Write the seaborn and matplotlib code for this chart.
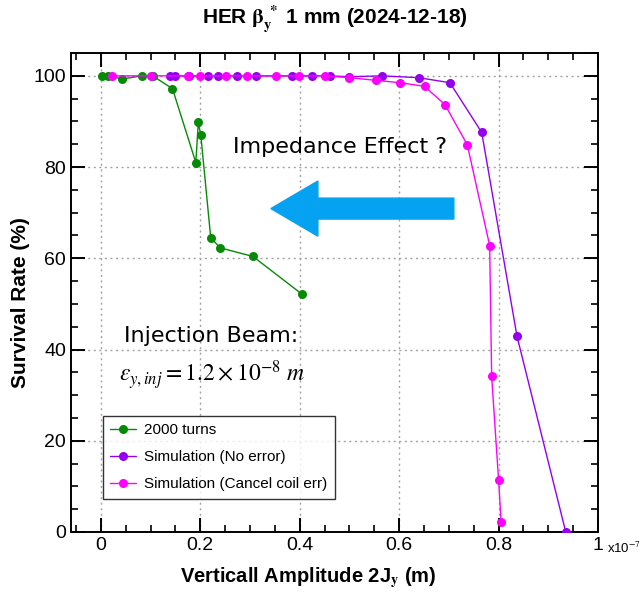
import matplotlib
matplotlib.use("Agg")
import matplotlib.pyplot as plt
from matplotlib.ticker import MultipleLocator
import seaborn as sns
import pandas as pd

# values (x in units of 1e-7 m, y in %)
turns_x = [0.003, 0.015, 0.043, 0.082, 0.104, 0.144, 0.191, 0.196, 0.201,
           0.221, 0.240, 0.306, 0.405]
turns_y = [100.0, 100.0, 99.3, 100.0, 100.0, 97.2, 81.0, 89.8, 87.0,
           64.5, 62.3, 60.4, 52.1]

noerr_x = [0.139, 0.149, 0.177, 0.216, 0.235, 0.274, 0.312, 0.385, 0.425,
           0.460, 0.499, 0.565, 0.639, 0.702, 0.766, 0.837, 0.935]
noerr_y = [100.0, 100.0, 100.0, 100.0, 100.0, 100.0, 100.0, 100.0, 100.0,
           100.0, 99.8, 100.0, 99.6, 98.5, 87.6, 42.9, 0.0]

coil_x = [0.022, 0.100, 0.175, 0.200, 0.251, 0.293, 0.353, 0.399, 0.450,
          0.500, 0.554, 0.602, 0.651, 0.692, 0.737, 0.782, 0.786, 0.800, 0.805]
coil_y = [100.0, 100.0, 100.0, 100.0, 100.0, 100.0, 100.0, 100.0, 100.0,
          99.6, 99.0, 98.5, 97.7, 93.7, 84.9, 62.8, 34.1, 11.3, 2.2]

series = [
    ("2000 turns", turns_x, turns_y, "#078a07"),
    ("Simulation (No error)", noerr_x, noerr_y, "#9400ee"),
    ("Simulation (Cancel coil err)", coil_x, coil_y, "#ff00ff"),
]

sns.set_theme(style="whitegrid")
plt.rcParams["font.family"] = ["Liberation Sans", "DejaVu Sans"]
plt.rcParams["mathtext.fontset"] = "stix"
for key in ["text.color", "axes.labelcolor", "xtick.color", "ytick.color"]:
    plt.rcParams[key] = "black"

fig = plt.figure(figsize=(6.41, 5.96), dpi=100)
ax = fig.add_axes([0.1108, 0.1074, 0.8222, 0.8036])

for name, xs, ys, col in series:
    df = pd.DataFrame({"x": xs, "y": ys})
    sns.lineplot(data=df, x="x", y="y", ax=ax, color=col, sort=False,
                 estimator=None, linewidth=1.0, marker="o", markersize=6.5,
                 markeredgewidth=0, label=name, zorder=3)

ax.set_xlim(-0.06, 1.0)
ax.set_ylim(0, 105)
ax.xaxis.set_major_locator(MultipleLocator(0.2))
ax.xaxis.set_minor_locator(MultipleLocator(0.05))
ax.yaxis.set_major_locator(MultipleLocator(20))
ax.yaxis.set_minor_locator(MultipleLocator(5))
ax.xaxis.set_major_formatter(lambda v, p: f"{v:g}")

ax.tick_params(which="both", direction="in", bottom=True, left=True, top=True,
               right=True, labelsize=14)
ax.tick_params(which="major", length=10, width=1.4)
ax.tick_params(which="minor", length=5, width=1.2)
ax.grid(True, which="major", color="#a3a3a3", linestyle=(0, (1.5, 2.5)),
        linewidth=1.0)
ax.grid(False, which="minor")
ax.set_axisbelow("line")
for s in ax.spines.values():
    s.set_color("black")
    s.set_linewidth(1.4)

ax.set_title(r"HER $\mathbf{\beta_y^{\ *}}$ 1 mm (2024-12-18)", fontsize=15,
             fontweight="bold", pad=21)
ax.set_xlabel(r"Verticall Amplitude 2J$_\mathbf{y}$ (m)", fontsize=14.5,
              fontweight="bold")
ax.xaxis.set_label_coords(0.45, -0.07)
ax.set_ylabel("Survival Rate (%)", fontsize=15, fontweight="bold")
ax.yaxis.set_label_coords(-0.078, 0.48)
ax.text(1.017, -0.018, r"x10$^{-7}$", transform=ax.transAxes, fontsize=9.5,
        ha="left", va="top")

ax.arrow(0.71, 70.9, -0.368, 0, width=4.6, head_width=12.1, head_length=0.0945,
         length_includes_head=True, color="#05a2f2", zorder=2)

ax.text(0.48, 84.5, "Impedance Effect ?", fontsize=16, family="DejaVu Sans",
        ha="center", va="center")
ax.text(0.222, 43.0, "Injection Beam:", fontsize=16, family="DejaVu Sans",
        ha="center", va="center")
ax.text(0.223, 34.3, r"$\varepsilon_{y,inj} = 1.2\times10^{-8}\ m$", fontsize=17,
        ha="center", va="center")

leg = ax.legend(loc="lower left", bbox_to_anchor=(0.06, 0.069), fontsize=11,
                frameon=True, fancybox=False, edgecolor="black",
                borderaxespad=0, handlelength=1.7, handletextpad=0.5,
                borderpad=0.5, labelspacing=0.85)
leg.get_frame().set_linewidth(1.0)
leg.get_frame().set_facecolor("white")
leg.set_zorder(5)

fig.savefig("out.png", dpi=100)
